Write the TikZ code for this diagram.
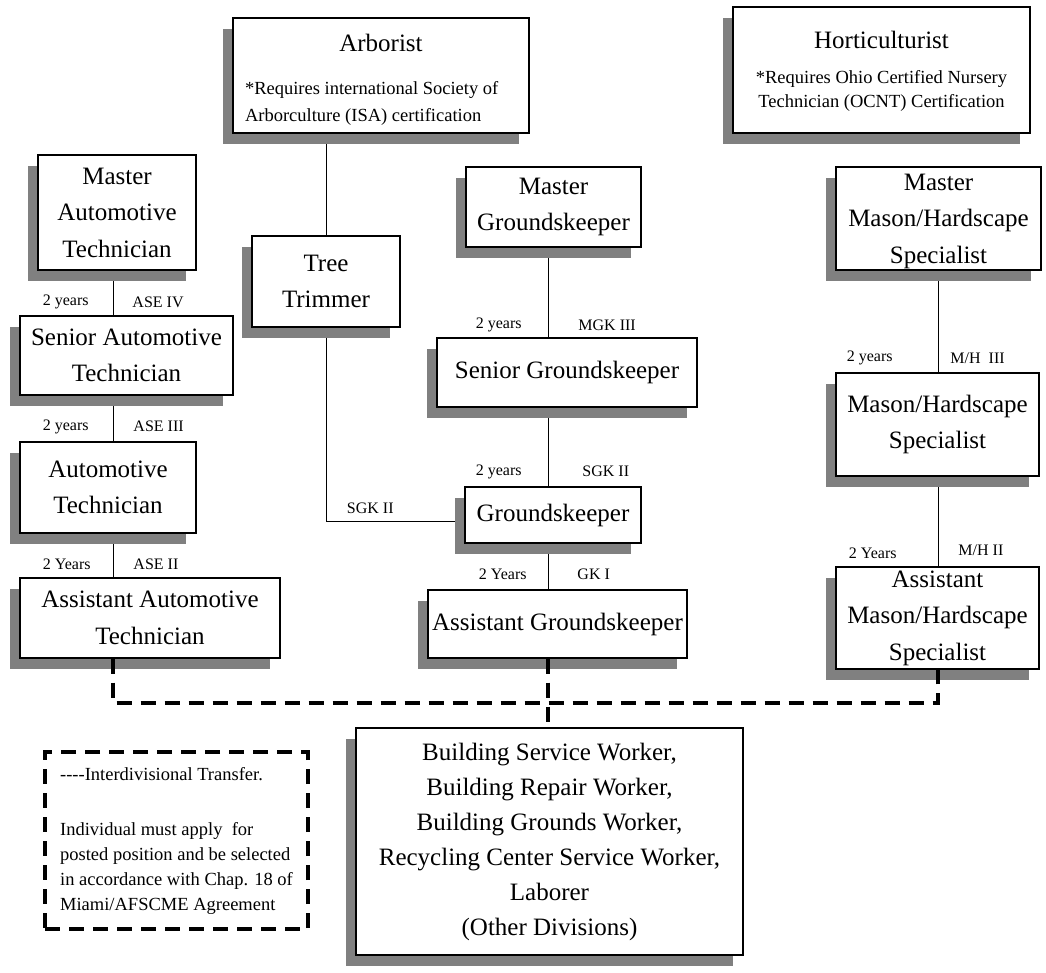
\documentclass[tikz,border=0pt]{standalone}
\usepackage{fontspec}
\setmainfont{Liberation Serif}
\usetikzlibrary{shadows, backgrounds, positioning}

\begin{document}
\begin{tikzpicture}[
  x=1pt, y=-1pt,
  job/.style={rectangle, draw=black, line width=1.2pt, fill=white,
    align=center, inner sep=0pt,
    font=\fontsize{25}{36.5}\selectfont,
    drop shadow={shadow xshift=-10pt, shadow yshift=-11pt,
      opacity=1, fill=black!50}},
  legendbox/.style={rectangle, draw=black, line width=3.5pt,
    dash pattern=on 15pt off 9pt, inner sep=0pt, align=left,
    font=\fontsize{18.5}{25}\selectfont},
  conn/.style={line width=0.9pt},
  xfer/.style={line width=4pt, dash pattern=on 15pt off 9pt},
  tag/.style={font=\fontsize{16}{18}\selectfont, inner sep=0pt},
  ltag/.style={tag, anchor=east, xshift=-24pt},
  rtag/.style={tag, anchor=west, xshift=20pt}
]
  \useasboundingbox (0,0) rectangle (1046,972);

  % Top: certified positions
  \node[job, minimum width=296pt, minimum height=115pt] (arb) at (381,75.5)
    {\rule{0pt}{25pt}Arborist\\[6.5pt]
     \parbox[t]{272pt}{\raggedright\fontsize{18.5}{27}\selectfont
       *Requires international Society of\\
       Arborculture (ISA) certification}};
  \node[job, minimum width=297pt, minimum height=126pt] (hort) at (881.5,70)
    {\rule{0pt}{20pt}Horticulturist\\[-1.5pt]
     {\fontsize{18.5}{24}\selectfont *Requires Ohio Certified Nursery}\\[-12.5pt]
     {\fontsize{18.5}{24}\selectfont Technician (OCNT) Certification}};

  % Left: Automotive
  \node[job, minimum width=158pt, minimum height=115pt] (mat) at (117,212.5)
    {Master\\Automotive\\Technician};
  \node[job, minimum width=213pt, minimum height=79pt] (sat) at (126.5,355.5)
    {Senior Automotive\\Technician};
  \node[job, minimum width=176pt, minimum height=91pt] (aut) at (108,487.5)
    {Automotive\\Technician};
  \node[job, minimum width=260pt, minimum height=80pt] (aat) at (150,618)
    {Assistant Automotive\\Technician};

  % Middle: Tree Trimmer and Groundskeepers
  \node[job, minimum width=148pt, minimum height=91pt] (tree) at (326,281.5)
    {Tree\\Trimmer};
  \node[job, minimum width=175pt, minimum height=80pt] (mgk) at (553.5,207)
    {Master\\Groundskeeper};
  \node[job, minimum width=260pt, minimum height=69pt] (sgk) at (567,372.5)
    {Senior Groundskeeper};
  \node[job, minimum width=176pt, minimum height=56pt] (gk) at (553,515)
    {Groundskeeper};
  \node[job, minimum width=259pt, minimum height=68pt] (agk) at (557.5,624)
    {Assistant Groundskeeper};

  % Right: Mason/Hardscape
  \node[job, minimum width=205pt, minimum height=103pt] (mmh) at (938.5,218.5)
    {\rule{0pt}{22pt}Master\\Mason/Hardscape\\Specialist};
  \node[job, minimum width=203pt, minimum height=103pt] (mhs) at (937.5,424.5)
    {Mason/Hardscape\\Specialist};
  \node[job, minimum width=203pt, minimum height=102pt] (amh) at (937.5,618)
    {Assistant\\Mason/Hardscape\\Specialist};

  % Bottom: other divisions and legend
  \node[job, minimum width=387pt, minimum height=227pt,
    font=\fontsize{25}{35}\selectfont] (bldg) at (549.5,841.5)
    {Building Service Worker,\\Building Repair Worker,\\
     Building Grounds Worker,\\Recycling Center Service Worker,\\
     Laborer\\(Other Divisions)};
  \node[legendbox, minimum width=263pt, minimum height=177pt] (legend) at (176.5,840.5)
    {{-}{-}{-}{-}Interdivisional Transfer.\\[30pt]
     Individual must apply\ \ for\\posted position and be selected\\
     in accordance with Chap. 18 of\\Miami/AFSCME Agreement};

  \coordinate (autoline) at (113,0);
  \coordinate (treeline) at (326,0);
  \coordinate (gkline) at (548,0);
  \coordinate (mhline) at (938,0);
  \coordinate (bus) at (0,703);

  \begin{scope}[on background layer]
    \fill[white] (0,0) rectangle (1046,972);
    \draw[conn] (mat.south -| autoline) -- (sat.north -| autoline)
      node[ltag, pos=.7] {2 years} node[rtag, pos=.7, xshift=-1pt] {ASE IV};
    \draw[conn] (sat.south -| autoline) -- (aut.north -| autoline)
      node[ltag, pos=.68] {2 years} node[rtag, pos=.68] {ASE III};
    \draw[conn] (aut.south -| autoline) -- (aat.north -| autoline)
      node[ltag, pos=.71, xshift=2pt] {2 Years} node[rtag, pos=.71] {ASE II};

    \draw[conn] (arb.south -| treeline) -- (tree.north);
    \draw[conn] (tree.south) |- ([yshift=-6pt]gk.west)
      node[tag, pos=.66, above=7pt] {SGK II};

    \draw[conn] (mgk.south -| gkline) -- (sgk.north -| gkline)
      node[ltag, pos=.86, xshift=-2pt] {2 years} node[rtag, pos=.86, xshift=10pt] {MGK III};
    \draw[conn] (sgk.south -| gkline) -- (gk.north -| gkline)
      node[ltag, pos=.81, xshift=-2pt] {2 years} node[rtag, pos=.81, xshift=14pt] {SGK II};
    \draw[conn] (gk.south -| gkline) -- (agk.north -| gkline)
      node[ltag, pos=.68, xshift=3pt] {2 Years} node[rtag, pos=.68, xshift=9pt] {GK I};

    \draw[conn] (mmh.south -| mhline) -- (mhs.north -| mhline)
      node[ltag, pos=.86, xshift=-21pt] {2 years} node[rtag, pos=.86, xshift=-8pt] {M/H\ \ III};
    \draw[conn] (mhs.south -| mhline) -- (amh.north -| mhline)
      node[ltag, pos=.85, xshift=-17pt] {2 Years} node[rtag, pos=.82, xshift=0pt] {M/H II};
  \end{scope}

  % Interdivisional transfer
  \draw[xfer] (aat.south -| autoline) -- (bus -| autoline)
    -- (bus -| mhline) -- (amh.south -| mhline);
  \draw[xfer] (agk.south -| gkline) -- (bldg.north -| gkline);
\end{tikzpicture}
\end{document}
